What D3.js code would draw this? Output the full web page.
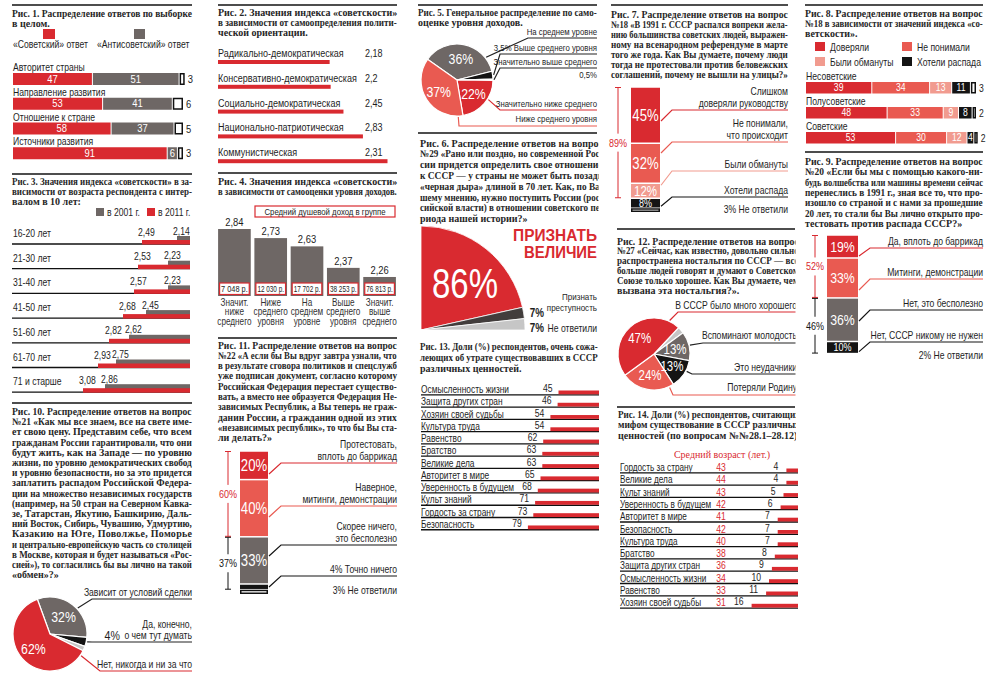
<!DOCTYPE html>
<html><head><meta charset="utf-8">
<script src="https://cdn.jsdelivr.net/npm/d3@7"></script>
<style>html,body{margin:0;padding:0;background:#fff;}svg{display:block}</style>
</head><body>
<script>
// ================= DATA =================
const fig1Title=["Рис. 1. Распределение ответов по выборке","в целом."];
const fig1Legend=["«Советский» ответ","«Антисоветский» ответ"];
const fig1Cats=["Авторитет страны","Направление развития","Отношение к стране","Источники развития"];
const fig1Soviet=[47,53,58,91];
const fig1Anti=[51,41,37,6];
const fig1None=[3,6,5,3];

const fig2Title=["Рис. 2. Значения индекса «советскости»","в зависимости от самоопределения полити-","ческой ориентации."];
const fig2Cats=["Радикально-демократическая","Консервативно-демократическая","Социально-демократическая","Национально-патриотическая","Коммунистическая"];
const fig2Values=[2.18,2.2,2.45,2.83,3.31];
const fig2Labels=["2,18","2,2","2,45","2,83","2,31"];

const fig3Title=["Рис. 3. Значения индекса «советскости» в за-","висимости от возраста респондента с интер-","валом в 10 лет:"];
const fig3Legend=["в 2001 г.","в 2011 г."];
const fig3Ages=["16-20 лет","21-30 лет","31-40 лет","41-50 лет","51-60 лет","61-70 лет","71 и старше"];
const fig3Y2001=[2.14,2.23,2.23,2.45,2.62,2.75,2.86];
const fig3Y2011=[2.49,2.53,2.57,2.68,2.82,2.93,3.08];

const fig4Title=["Рис. 4. Значения индекса «советскости»","в зависимости от самооценки уровня доходов."];
const fig4Header="Средний душевой доход в группе";
const fig4Cats=["Значит.|ниже|среднего","Ниже|среднего|уровня","На|среднем|уровне","Выше|среднего|уровня","Значит.|выше|среднего"];
const fig4Values=[2.84,2.73,2.63,2.37,2.26];
const fig4Income=["7 048 р.","12 030 р.","17 702 р.","38 253 р.","76 813 р."];

const fig5Title=["Рис. 5. Генеральное распределение по само-","оценке уровня доходов."];
const fig5Cats=["На среднем уровне","Выше среднего уровня","Значительно выше среднего","Значительно ниже среднего","Ниже среднего уровня"];
const fig5Values=[36,3.5,0.5,22,37];

const fig6Title=["Рис. 6. Распределение ответов на вопрос","№29 «Рано или поздно, но современной Рос-","сии придется определить свое отношение","к СССР — у страны не может быть позади","«черная дыра» длиной в 70 лет. Как, по Ва-","шему мнению, нужно поступить России (рос-","сийской власти) в отношении советского пе-","риода нашей истории?»"];
const fig6Cats=["Признать величие","Признать преступность","Не ответили"];
const fig6Values=[86,7,7];

const fig7Title=["Рис. 7. Распределение ответов на вопрос","№18 «В 1991 г. СССР распался вопреки жела-","нию большинства советских людей, выражен-","ному на всенародном референдуме в марте","того же года. Как Вы думаете, почему люди","тогда не протестовали против беловежских","соглашений, почему не вышли на улицы?»"];
const fig7Cats=["Слишком|доверяли руководству","Не понимали,|что происходит","Были обмануты","Хотели распада","Не ответили"];
const fig7Values=[45,32,12,8,3];

const fig8Title=["Рис. 8. Распределение ответов на вопрос","№18 в зависимости от значений индекса «со-","ветскости»."];
const fig8Groups=["Несоветские","Полусоветские","Советские"];
const fig8Series=["Доверяли","Не понимали","Были обмануты","Хотели распада"];
const fig8Trusted=[39,48,53];
const fig8NotUnderstood=[34,33,30];
const fig8Deceived=[13,9,12];
const fig8WantedCollapse=[11,8,4];
const fig8NoAnswer=[3,2,2];

const fig9Title=["Рис. 9. Распределение ответов на вопрос","№20 «Если бы мы с помощью какого-ни-","будь волшебства или машины времени сейчас","перенеслись в 1991 г., зная все то, что про-","изошло со страной и с нами за прошедшие","20 лет, то стали бы Вы лично открыто про-","тестовать против распада СССР?»"];
const fig9Cats=["Да, вплоть до баррикад","Митинги, демонстрации","Нет, это бесполезно","Нет, СССР никому не нужен","Не ответили"];
const fig9Values=[19,33,36,10,2];

const fig10Title=["Рис. 10. Распределение ответов на вопрос","№21 «Как мы все знаем, все на свете име-","ет свою цену. Представим себе, что всем","гражданам России гарантировали, что они","будут жить, как на Западе — по уровню","жизни, по уровню демократических свобод","и уровню безопасности, но за это придется","заплатить распадом Российской Федера-","ции на множество независимых государств","(например, на 50 стран на Северном Кавка-","зе, Татарстан, Якутию, Башкирию, Даль-","ний Восток, Сибирь, Чувашию, Удмуртию,","Казакию на Юге, Поволжье, Поморье","и центрально-европейскую часть со столицей","в Москве, которая и будет называться «Рос-","сией»), то согласились бы вы лично на такой","«обмен»?»"];
const fig10Cats=["Зависит от условий сделки","Да, конечно,|о чем тут думать","Не ответили","Нет, никогда и ни за что"];
const fig10Values=[32,4,2,62];

const fig11Title=["Рис. 11. Распределение ответов на вопрос","№22 «А если бы Вы вдруг завтра узнали, что","в результате сговора политиков и спецслужб","уже подписан документ, согласно которому","Российская Федерация перестает существо-","вать, а вместо нее образуется Федерация Не-","зависимых Республик, а Вы теперь не граж-","данин России, а гражданин одной из этих","«независимых республик», то что бы Вы ста-","ли делать?»"];
const fig11Cats=["Протестовать,|вплоть до баррикад","Наверное,|митинги, демонстрации","Скорее ничего,|это бесполезно","Точно ничего","Не ответили"];
const fig11Values=[20,40,33,4,3];

const fig12Title=["Рис. 12. Распределение ответов на вопрос","№27 «Сейчас, как известно, довольно сильно","распространена ностальгия по СССР — все","больше людей говорят и думают о Советском","Союзе только хорошее. Как Вы думаете, чем","вызвана эта ностальгия?»."];
const fig12Cats=["Другое","Вспоминают молодость","Это неудачники","Потеряли Родину","В СССР было много хорошего"];
const fig12Values=[3,13,13,24,47];

const fig13Title=["Рис. 13. Доли (%) респондентов, очень сожа-","леющих об утрате существовавших в СССР","различных ценностей."];
const fig13Cats=["Осмысленность жизни","Защита других стран","Хозяин своей судьбы","Культура труда","Равенство","Братство","Великие дела","Авторитет в мире","Уверенность в будущем","Культ знаний","Гордость за страну","Безопасность"];
const fig13Values=[45,46,54,54,62,63,63,65,68,71,73,79];

const fig14Title=["Рис. 14. Доли (%) респондентов, считающих","мифом существование в СССР различных","ценностей (по вопросам №№28.1–28.12)."];
const fig14Header="Средний возраст (лет.)";
const fig14Cats=["Гордость за страну","Великие дела","Культ знаний","Уверенность в будущем","Авторитет в мире","Безопасность","Культура труда","Братство","Защита других стран","Осмысленность жизни","Равенство","Хозяин своей судьбы"];
const fig14Age=[43,44,43,42,41,42,40,38,36,34,33,31];
const fig14Values=[4,4,5,6,7,7,7,8,9,10,11,16];

// ================= STYLE / HELPERS =================
const RED='#d92a30', MRED='#e95a51', LRED='#f19b8f', GREY='#6e6765', DGREY='#423d3c', BLACK='#141414', LGREY='#c6c6c6';
const SERIF='"Liberation Serif","DejaVu Serif",serif';
const SANS='"Liberation Sans","Arial",sans-serif';
const NARROW=0.82;
const svg=d3.select('body').append('svg').attr('width',1000).attr('height',687);
const defs=svg.append('defs');
function addClip(id,x,y,w,h){defs.append('clipPath').attr('id',id).append('rect').attr('x',x).attr('y',y).attr('width',w).attr('height',h);}
function place(t,x,y,k){t.attr('transform',`translate(${x},${y})`+(Math.abs(k-1)>0.002?` scale(${k},1)`:''));}
// text drawn at origin and placed with a transform; sans text is condensed horizontally
function T(g,x,y,s,o={}){
  const ff=o.ff||SANS;
  const t=g.append('text').attr('x',0).attr('y',0).text(s)
    .style('font-family',ff).style('font-size',(o.fs||10)+'px')
    .attr('fill',o.fill||'#1e1e1e').attr('text-anchor',o.a||'start');
  if(o.fw) t.style('font-weight',o.fw);
  const n=t.node().getComputedTextLength();
  let k=(ff===SANS)?NARROW:1;
  if(o.w && (n*k>o.w||o.exact)) k=o.w/n;
  place(t,x,y,k);
  t.property('__w',n*k).property('__k',k);
  return t;
}
function para(g,x,y,w,lines,lh){
  lines.forEach((s,i)=>{
    const t=T(g,x,y+i*lh,s,{ff:SERIF,fs:10,fw:'bold',fill:'#262626'});
    const n=t.property('__w');
    if(n>w) place(t,x,y+i*lh,w/n);
    else if(i<lines.length-1) t.attr('textLength',w).attr('lengthAdjust','spacing');
  });
}
function rule(g,x1,x2,y){g.append('line').attr('x1',x1).attr('x2',x2).attr('y1',y).attr('y2',y).attr('stroke','#4d4d4d').attr('stroke-width',2);}
function poly(g,pts,col,w){g.append('path').attr('d',d3.line()(pts)).attr('fill','none').attr('stroke',col).attr('stroke-width',w||1);}
function bracket(g,x,y1,y2,label,col){
  const m=(y1+y2)/2;
  poly(g,[[x,y1],[x,m-9]],col);poly(g,[[x,m+9],[x,y2]],col);
  poly(g,[[x-3,y1],[x+3,y1]],col);poly(g,[[x-3,y2],[x+3,y2]],col);
  T(g,x,m+4,label,{fs:11,fill:col,a:'middle'});
}
const pct=v=>String(v).replace('.',',')+'%';
const rad=d=>d*Math.PI/180;
function edge(cx,cy,r,deg){return [cx+r*Math.sin(rad(deg)),cy-r*Math.cos(rad(deg))];}

function hstack(g,x,rowTop,h,rows,colors,fs){
  rows.forEach((vals,r)=>{
    const st=[0,...d3.cumsum(vals)];
    g.selectAll(null).data(vals.map((v,i)=>({v,i,a:st[i],b:st[i+1]}))).join('rect')
      .attr('x',d=>x(d.a)+(colors[d.i]==='box'?0.75:0))
      .attr('y',d=>rowTop(r)+(colors[d.i]==='box'?0.75:0))
      .attr('width',d=>x(d.b)-x(d.a)-(colors[d.i]==='box'?1.5:1))
      .attr('height',d=>h-(colors[d.i]==='box'?1.5:0))
      .attr('fill',d=>colors[d.i]==='box'?'#fff':colors[d.i])
      .attr('stroke',d=>colors[d.i]==='box'?'#111':'none').attr('stroke-width',1.5);
    vals.forEach((v,i)=>{
      if(colors[i]==='box') T(g,x(st[i+1])+3,rowTop(r)+h-2,v,{fs});
      else T(g,(x(st[i])+x(st[i+1]))/2-0.5,rowTop(r)+h-2.5,v,{fs,fill:'#fff',a:'middle'});
    });
  });
}

function vbar(g,c){
  const y=d3.scaleLinear().domain([0,100]).range([c.y0,c.y0+c.k*100]);
  const st=[0,...d3.cumsum(c.values)];
  const segs=c.values.map((v,i)=>({v,i,a:st[i],b:st[i+1]}));
  g.selectAll(null).data(segs.filter(d=>c.colors[d.i])).join('rect')
    .attr('x',d=>c.x+(c.colors[d.i]==='box'?0.75:0)).attr('width',d=>c.w-(c.colors[d.i]==='box'?1.5:0))
    .attr('y',d=>y(d.a)+0.75).attr('height',d=>Math.max(0.5,y(d.b)-y(d.a)-1.5))
    .attr('fill',d=>c.colors[d.i]==='box'?'#fff':c.colors[d.i])
    .attr('stroke',d=>c.colors[d.i]==='box'?'#111':'none').attr('stroke-width',1.5);
  segs.forEach(d=>{const f=c.pctFs[d.i]; if(f) T(g,c.x+c.w/2,(y(d.a)+y(d.b))/2+f*0.36,pct(d.v),{fs:f,fill:'#fff',a:'middle'});});
  c.labels.forEach((L,i)=>{
    const d=segs[i]; const lines=c.cats[i].split('|');
    lines.forEach((s,j)=>T(g,c.xr,L.uy-3-(lines.length-1-j)*12,(L.pre?pct(d.v)+' ':'')+s,{a:'end',fs:10.5}));
    const sy=Math.max(y(d.a)+2,Math.min(y(d.b)-2,L.uy+11));
    poly(g,[[c.x+c.w+1,sy],[c.lx,L.uy],[c.xr,L.uy]],L.col,1.2);
  });
  const n=c.values.length-1;
  T(g,c.xr,c.naY,pct(c.values[n])+' '+c.cats[n],{a:'end',fs:10.5});
  c.brackets.forEach(b=>bracket(g,c.bx,y(st[b.from])+0.5,y(st[b.to+1])-0.5,pct(d3.sum(c.values.slice(b.from,b.to+1))),b.col));
}

function pie(g,cx,cy,r,values,colors,startDeg,endDeg){
  const arcs=d3.pie().sort(null).startAngle(rad(startDeg)).endAngle(rad(endDeg))(values);
  const gp=g.append('g').attr('transform',`translate(${cx},${cy})`);
  gp.selectAll('path').data(arcs).join('path').attr('d',d3.arc().innerRadius(0).outerRadius(r))
    .attr('fill',(d,i)=>colors[i]).attr('stroke','#fff').attr('stroke-width',1.2);
  return {arcs,gp};
}
function pieLabels(gp,arcs,r,show,fs){
  const la=d3.arc().innerRadius(r*0.6).outerRadius(r*0.6);
  arcs.forEach((a,i)=>{ if(show[i]){const [px,py]=la.centroid(a); T(gp,px,py+fs*0.36,pct(a.data),{fs,fill:'#fff',a:'middle'});} });
}
function leader(g,cx,cy,r,ang,ux,uy,xr,col){
  poly(g,[edge(cx,cy,r+1,ang),[ux,uy],[xr,uy]],col,1.2);
}

// ================= COLUMN 1 =================
{ const g=svg.append('g');
  rule(g,12,192,5);
  para(g,12,16.5,180,fig1Title,10.2);
  g.append('rect').attr('x',43).attr('y',29).attr('width',12).attr('height',10).attr('fill',RED);
  g.append('rect').attr('x',134).attr('y',29).attr('width',11).attr('height',10).attr('fill',GREY);
  T(g,13,48,fig1Legend[0],{fs:10.5}); T(g,97,48,fig1Legend[1],{fs:10.5});
  const x=d3.scaleLinear().domain([0,100]).range([13,183]);
  const yb=d3.scaleBand().domain(fig1Cats).range([66,165]);
  fig1Cats.forEach((c,i)=>T(g,13,yb(c)+5,c,{fs:10.5}));
  hstack(g,x,r=>yb(fig1Cats[r])+7,12,fig1Cats.map((c,i)=>[fig1Soviet[i],fig1Anti[i],fig1None[i]]),[RED,GREY,'box'],11.5);
}
{ const g=svg.append('g');
  rule(g,12,192,174);
  para(g,12,185,180,fig3Title,10.2);
  g.append('rect').attr('x',96).attr('y',208).attr('width',8).attr('height',8).attr('fill',GREY);
  g.append('rect').attr('x',147).attr('y',208).attr('width',8).attr('height',8).attr('fill',RED);
  T(g,107,216,fig3Legend[0],{fs:10.5}); T(g,158,216,fig3Legend[1],{fs:10.5});
  const x=d3.scaleLinear().domain([2.01,3.08]).range([190,83]);
  const yb=d3.scaleBand().domain(fig3Ages).range([224,224+24.7*7]);
  fig3Ages.forEach((a,i)=>{
    const base=yb(a)+20;
    poly(g,[[12,base],[190,base]],'#111',1.3);
    T(g,13,base-7,a,{fs:10.5});
    g.append('rect').attr('x',x(fig3Y2001[i])).attr('y',base-8).attr('width',190-x(fig3Y2001[i])).attr('height',8).attr('fill',GREY);
    g.append('rect').attr('x',x(fig3Y2011[i])).attr('y',base-4).attr('width',190-x(fig3Y2011[i])).attr('height',4.5).attr('fill',RED);
    T(g,x(fig3Y2011[i])-4,base-8.5,String(fig3Y2011[i]).replace('.',','),{fs:10.5});
    const t=T(g,x(fig3Y2001[i])-4,base-9.5,String(fig3Y2001[i]).replace('.',','),{fs:10.5});
    const w=t.property('__w'); if(x(fig3Y2001[i])-4+w>192) place(t,192-w,base-9.5,t.property('__k'));
  });
}
{ const g=svg.append('g');
  rule(g,12,192,403);
  para(g,12,415,180,fig10Title,10.2);
  const cx=50,cy=634,r=37;
  const {arcs,gp}=pie(g,cx,cy,r,fig10Values,[GREY,BLACK,LGREY,RED],-20,340);
  pieLabels(gp,arcs,r,[1,0,0,1],15);
  leader(g,cx,cy,r,47,92,599,192,'#222');
  T(g,192,596,fig10Cats[0],{a:'end',fs:10.5});
  leader(g,cx,cy,r,102,92,642,192,'#222');
  const l2=fig10Cats[1].split('|');
  T(g,192,628,l2[0],{a:'end',fs:10.5}); T(g,192,639,l2[1],{a:'end',fs:10.5});
  T(g,120,640,pct(fig10Values[1]),{fs:13,a:'end'});
  leader(g,cx,cy,r,125,100,671,192,RED);
  T(g,192,668,fig10Cats[3],{a:'end',fs:10.5});
}

// ================= COLUMN 2 =================
{ const g=svg.append('g');
  rule(g,218,397,5);
  para(g,218,16,179,fig2Title,10.2);
  const x=d3.scaleLinear().domain([0,3.31]).range([218,387.5]);
  const yb=d3.scaleBand().domain(fig2Cats).range([60,60+24.8*5]);
  fig2Cats.forEach((c,i)=>{
    const top=yb(c);
    T(g,218,top-3,c,{fs:11});
    T(g,365,top-3,fig2Labels[i],{fs:11});
    g.append('rect').attr('x',x(0)).attr('y',top).attr('width',x(fig2Values[i])-x(0)).attr('height',4).attr('fill',RED);
  });
  rule(g,218,397,173);
}
{ const g=svg.append('g');
  para(g,218,184.5,179,fig4Title,10.2);
  g.append('rect').attr('x',255).attr('y',206).attr('width',140).attr('height',11).attr('fill','#fff').attr('stroke',RED).attr('stroke-width',1.2);
  T(g,325,214.5,fig4Header,{fs:9.5,a:'middle'});
  const xb=d3.scaleBand().domain(fig4Cats).range([217,397]).paddingInner(0.1).paddingOuter(0.03);
  const y=d3.scaleLinear().domain([2.03,2.84]).range([296,229]);
  g.selectAll(null).data(fig4Values).join('rect')
    .attr('x',(d,i)=>xb(fig4Cats[i])).attr('width',xb.bandwidth())
    .attr('y',d=>y(d)).attr('height',d=>296-y(d)).attr('fill',GREY);
  fig4Values.forEach((v,i)=>{
    const x0=xb(fig4Cats[i]),bw=xb.bandwidth();
    T(g,x0+bw/2,y(v)-3,String(v).replace('.',','),{fs:11.5,a:'middle'});
    g.append('rect').attr('x',x0+1.5).attr('y',283).attr('width',bw-3).attr('height',11.5).attr('fill','#fff').attr('stroke',RED).attr('stroke-width',1.2);
    T(g,x0+bw/2,292,fig4Income[i],{fs:9.5,a:'middle',w:bw-6});
    fig4Cats[i].split('|').forEach((s,j)=>T(g,x0+bw/2,306+j*9.3,s,{fs:10,a:'middle',fill:'#333'}));
  });
}
{ const g=svg.append('g');
  rule(g,218,397,338);
  para(g,218,348.5,179,fig11Title,10.3);
  vbar(g,{x:240,w:28,y0:451,k:1.43,values:fig11Values,colors:[RED,MRED,GREY,BLACK,'box'],pctFs:[16,16,16,0,0],
    cats:fig11Cats,xr:397,lx:281,naY:594,bx:228,
    labels:[{uy:463,col:RED},{uy:506,col:MRED},{uy:545,col:BLACK},{uy:576,col:BLACK,pre:true}],
    brackets:[{from:0,to:1,col:RED},{from:2,to:3,col:BLACK}]});
}

// ================= COLUMN 3 =================
{ const g=svg.append('g');
  rule(g,418,597,5);
  para(g,418,15.5,179,fig5Title,10.5);
  const cx=457,cy=80,r=36;
  const {arcs,gp}=pie(g,cx,cy,r,fig5Values,[GREY,BLACK,'#9a9a9a',RED,MRED],-55,305);
  pieLabels(gp,arcs,r,[1,0,0,1,1],15);
  const o={fs:9.5,a:'end'};
  leader(g,cx,cy,r,52,528,38,597,'#222'); T(g,597,35,fig5Cats[0],o);
  leader(g,cx,cy,r,82,500,54,597,'#222'); T(g,597,51,pct(fig5Values[1])+' '+fig5Cats[1],o);
  leader(g,cx,cy,r,89.5,500,68,597,'#222'); T(g,597,65,fig5Cats[2],o); T(g,597,78,pct(fig5Values[2]),o);
  leader(g,cx,cy,r,122,500,110,597,RED); T(g,597,107,fig5Cats[3],o);
  leader(g,cx,cy,r,178,459,126,597,MRED); T(g,597,122,fig5Cats[4],o);
}
{ const g=svg.append('g');
  rule(g,418,597,133);
  addClip('c6',410,130,188.5,100);
  const gt=g.append('g').attr('clip-path','url(#c6)');
  para(gt,420,146.5,183,fig6Title,10.8);
  const cx=421,cy=330,r=104;
  const {arcs,gp}=pie(g,cx,cy,r,fig6Values,[RED,DGREY,LGREY],0,90);
  gp.selectAll('path').attr('stroke-width',0.8);
  T(g,465,298,pct(fig6Values[0]),{fs:42,fill:'#fff',a:'middle',w:66,exact:true});
  const big=fig6Cats[0].toUpperCase().split(' ');
  T(g,597,241,big[0],{fs:17,fw:'bold',fill:RED,a:'end',w:84,exact:true});
  T(g,597,258,big[1],{fs:17,fw:'bold',fill:RED,a:'end',w:73,exact:true});
  const l1=fig6Cats[1].split(' ');
  T(g,597,300,l1[0],{a:'end',fs:9.8}); T(g,597,311,l1[1],{a:'end',fs:9.8});
  T(g,544,317,pct(fig6Values[1]),{fs:12,fw:'bold',a:'end'});
  T(g,544,332,pct(fig6Values[2]),{fs:12,fw:'bold',a:'end'});
  T(g,597,332,fig6Cats[2],{a:'end',fs:10.5});
}
{ const g=svg.append('g');
  para(g,420,350,178,fig13Title,11);
  const x=d3.scaleLinear().domain([0,100]).range([0,90]);
  const yb=d3.scaleBand().domain(fig13Cats).range([383,383+12.27*12]);
  fig13Cats.forEach((c,i)=>{
    const b=yb(c)+10;
    T(g,421,b,c,{fs:10.2});
    poly(g,[[421,b+1.8],[599,b+1.8]],'#111',1.3);
    g.append('rect').attr('x',599-x(fig13Values[i])).attr('y',b-2.5).attr('width',x(fig13Values[i])).attr('height',3.8).attr('fill',RED);
    T(g,599-x(fig13Values[i])-6,b-1,fig13Values[i],{a:'end',fs:10.5});
  });
}

// ================= COLUMN 4 =================
{ const g=svg.append('g');
  rule(g,611,788,5);
  para(g,611,17.5,177,fig7Title,10.1);
  vbar(g,{x:631,w:29,y0:87,k:1.25,values:fig7Values,colors:[RED,MRED,LRED,BLACK,'box'],pctFs:[16,16,14,11,0],
    cats:fig7Cats,xr:788,lx:672,naY:213,bx:618,
    labels:[{uy:110,col:RED},{uy:142,col:MRED},{uy:171,col:LRED},{uy:197,col:BLACK}],
    brackets:[{from:0,to:2,col:RED}]});
}
{ const g=svg.append('g');
  rule(g,617,795,229);
  addClip('c12',605,225,190.5,200);
  const gt=g.append('g').attr('clip-path','url(#c12)');
  para(gt,617,244.5,182,fig12Title,9.9);
  const cx=654,cy=354,r=36;
  const {arcs,gp}=pie(g,cx,cy,r,fig12Values,[LGREY,GREY,BLACK,MRED,RED],43,403);
  pieLabels(gp,arcs,r,[0,1,1,1,1],14);
  const o={a:'end',fs:10.5};
  leader(gt,cx,cy,r,25,678,312,797,RED); T(gt,797,309,fig12Cats[4],o);
  leader(gt,cx,cy,r,76,703,343,797,'#222'); T(gt,797,339,fig12Cats[1],o);
  leader(gt,cx,cy,r,118,692,374,797,'#222'); T(gt,797,371,fig12Cats[2],o);
  leader(gt,cx,cy,r,155,673,395,797,MRED); T(gt,797,391,fig12Cats[3],o);
}
{ const g=svg.append('g');
  rule(g,617,795,407);
  addClip('c14',605,405,191,250);
  const gt=g.append('g').attr('clip-path','url(#c14)');
  para(gt,618,417.5,182,fig14Title,10.5);
  T(g,722,458,fig14Header,{ff:SERIF,fs:10,fill:RED,a:'middle'});
  const x=d3.scaleLinear().domain([0,20]).range([0,58]);
  const yb=d3.scaleBand().domain(fig14Cats).range([461,461+12.3*12]);
  fig14Cats.forEach((c,i)=>{
    const b=yb(c)+10;
    T(g,620,b,c,{fs:10});
    T(g,721,b,fig14Age[i],{fill:RED,a:'middle',fs:10.5});
    poly(g,[[620,b+1.8],[798,b+1.8]],'#111',1.3);
    g.append('rect').attr('x',798-x(fig14Values[i])).attr('y',b-2.5).attr('width',x(fig14Values[i])).attr('height',3.8).attr('fill',RED);
    T(g,798-x(fig14Values[i])-8,b-1,fig14Values[i],{a:'end',fs:10.5});
  });
}

// ================= COLUMN 5 =================
{ const g=svg.append('g');
  rule(g,805,983,5);
  para(g,805,17,178,fig8Title,10);
  const lc=[RED,MRED,LRED,BLACK];
  const lp=[[815,42],[902,42],[815,57],[902,57]];
  fig8Series.forEach((s,i)=>{
    g.append('rect').attr('x',lp[i][0]).attr('y',lp[i][1]).attr('width',10).attr('height',9).attr('fill',lc[i]);
    T(g,lp[i][0]+15,lp[i][1]+8.5,s,{fs:10.5});
  });
  const x=d3.scaleLinear().domain([0,100]).range([806,976]);
  const yb=d3.scaleBand().domain(fig8Groups).range([74,149]);
  fig8Groups.forEach(gr=>T(g,806,yb(gr)+6,gr,{fs:10.5}));
  hstack(g,x,r=>yb(fig8Groups[r])+8,11.5,fig8Groups.map((gr,i)=>[fig8Trusted[i],fig8NotUnderstood[i],fig8Deceived[i],fig8WantedCollapse[i],fig8NoAnswer[i]]),[RED,MRED,LRED,BLACK,'box'],10.5);
}
{ const g=svg.append('g');
  rule(g,805,983,152);
  para(g,805,165,178,fig9Title,10.3);
  vbar(g,{x:827,w:31,y0:235,k:1.21,values:fig9Values,colors:[RED,MRED,GREY,BLACK,null],pctFs:[15,15,15,11,0],
    cats:fig9Cats,xr:983,lx:870,naY:359,bx:815,
    labels:[{uy:248,col:RED},{uy:279,col:MRED},{uy:310,col:BLACK},{uy:342,col:BLACK}],
    brackets:[{from:0,to:1,col:RED},{from:2,to:3,col:BLACK}]});
}
</script>
</body></html>
